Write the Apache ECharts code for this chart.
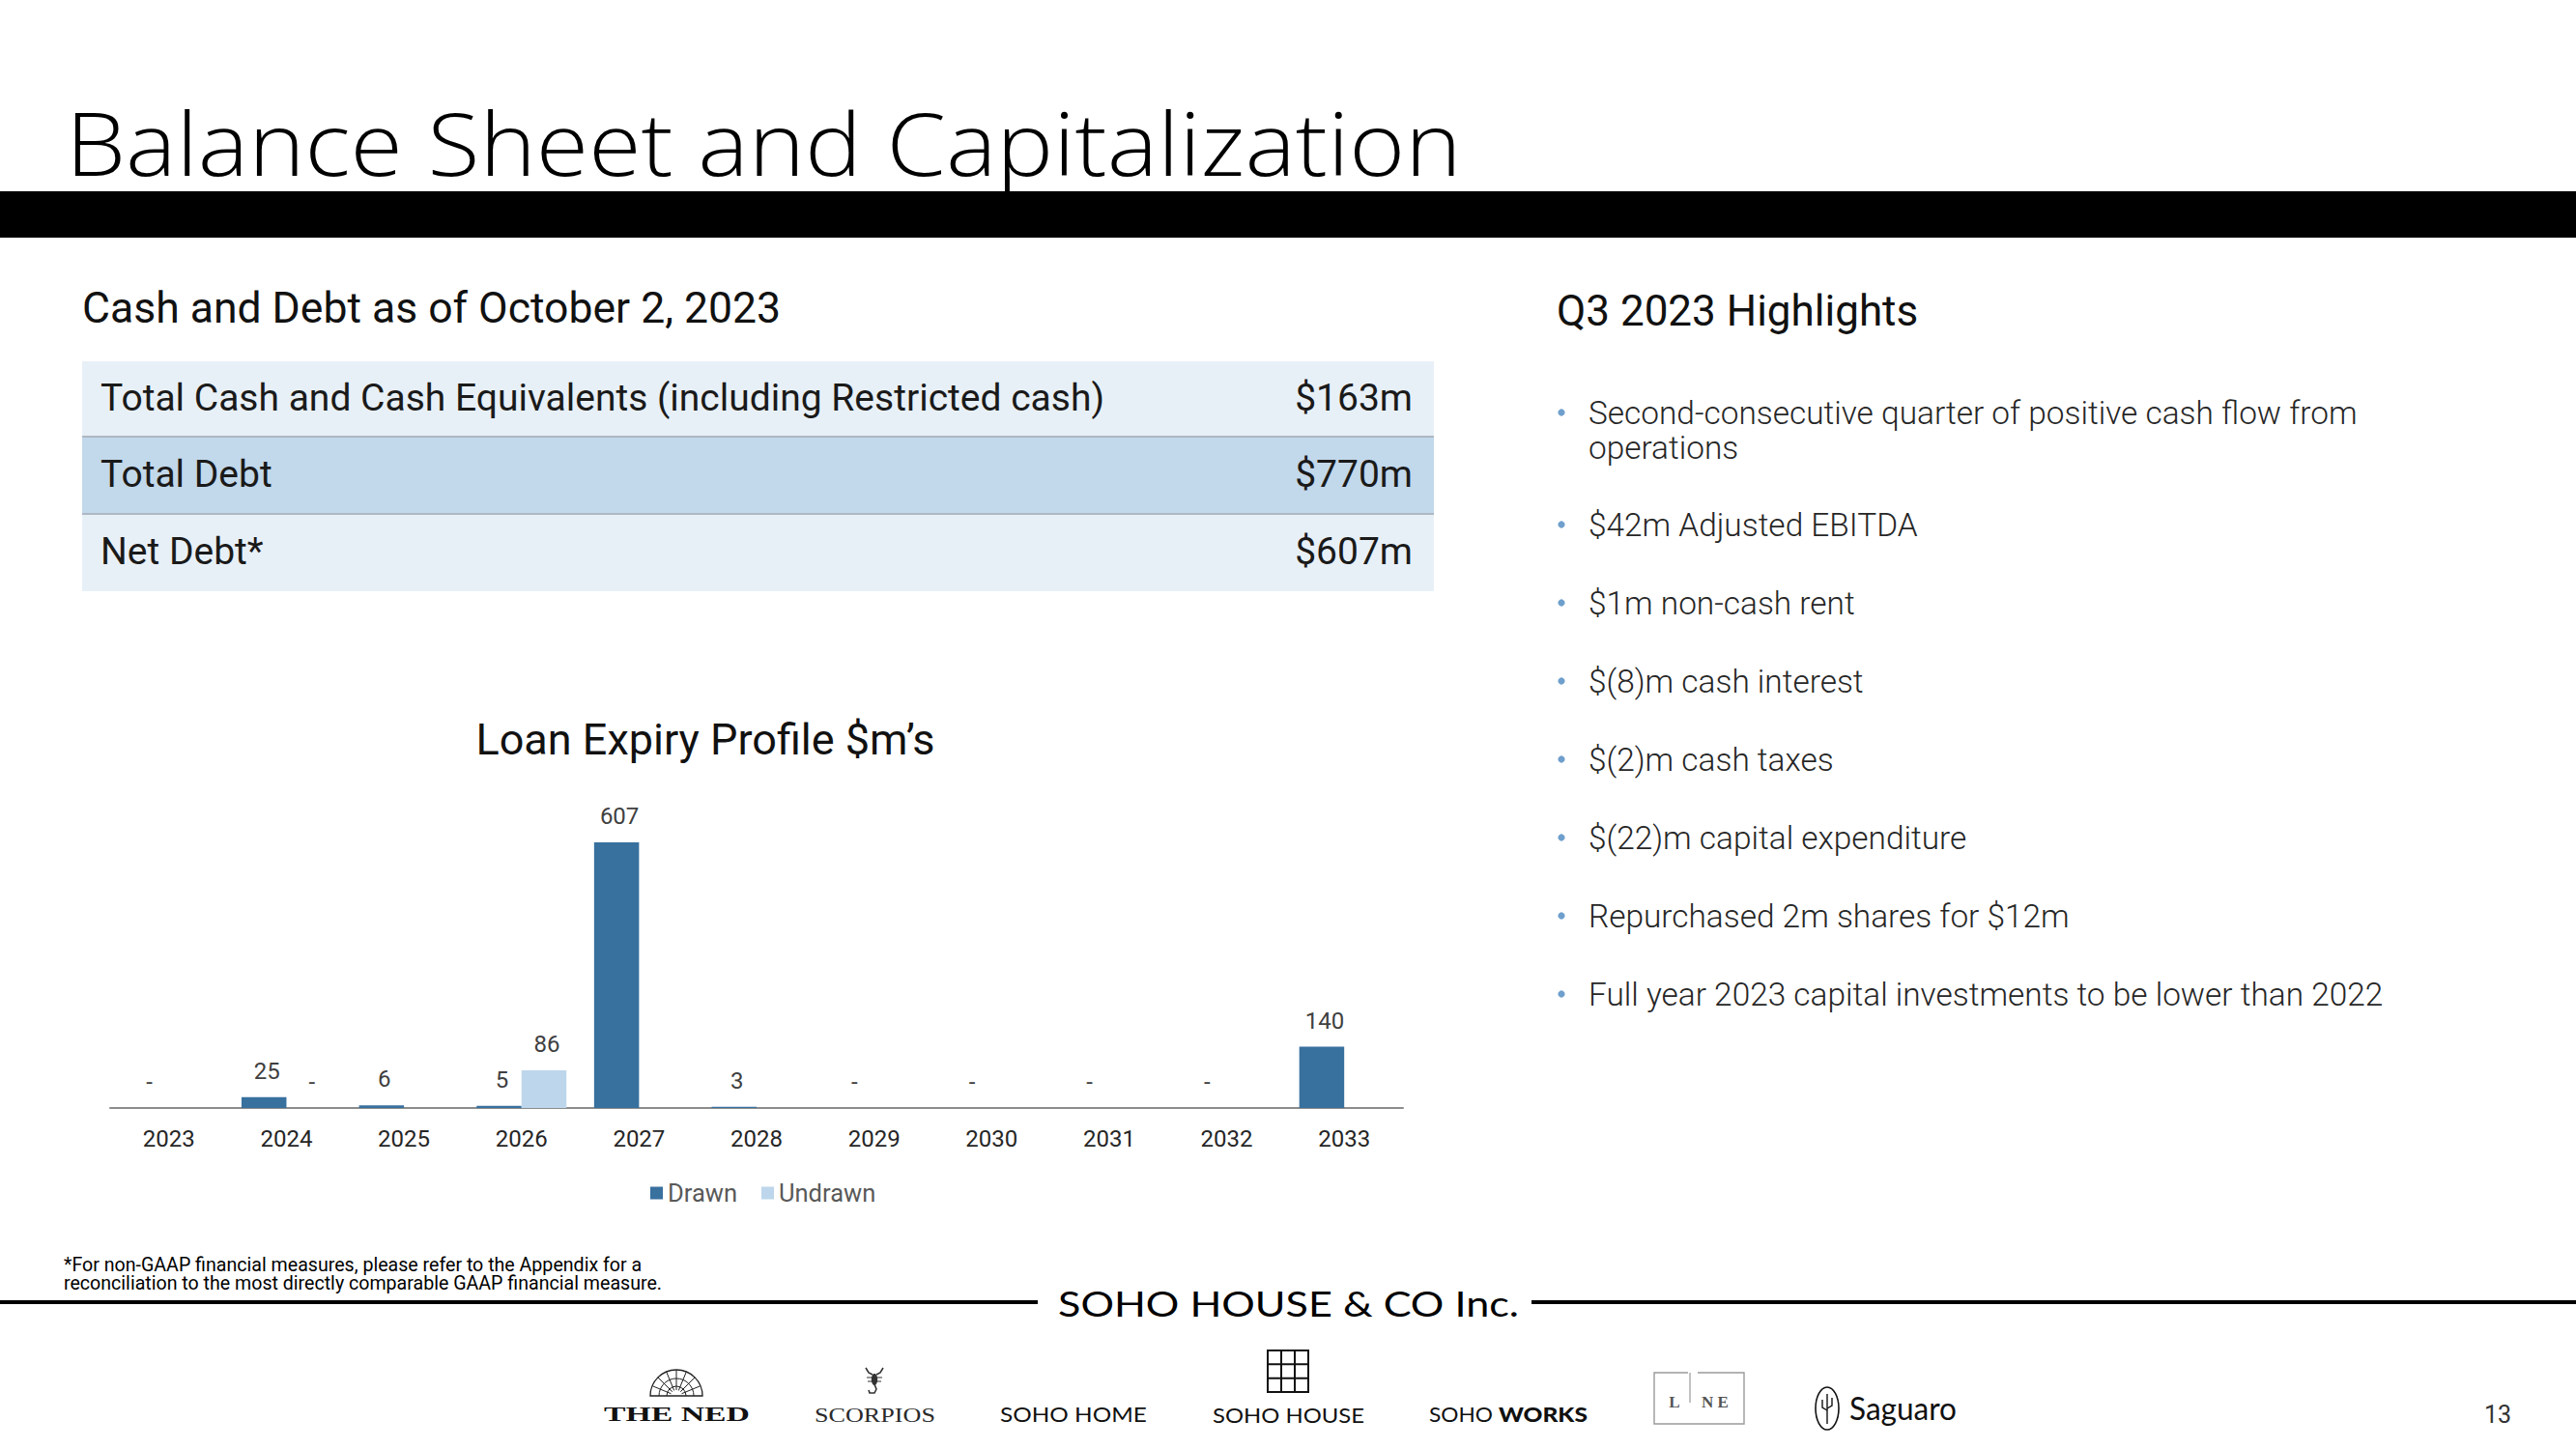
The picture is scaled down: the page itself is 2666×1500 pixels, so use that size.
<!DOCTYPE html>
<html><head><meta charset="utf-8">
<script src="https://cdn.jsdelivr.net/npm/echarts@6/dist/echarts.min.js"></script>
<style>html,body{margin:0;padding:0;background:#fff;} #c{width:2666px;height:1500px;}</style>
</head><body><div id="c"></div>
<script>
// ---------- data ----------
const years = ['2023','2024','2025','2026','2027','2028','2029','2030','2031','2032','2033'];
const drawn = [0, 25, 6, 5, 607, 3, 0, 0, 0, 0, 140];
const undrawn = [null, 0, null, 86, null, null, null, null, null, null, null];
const seriesNames = ['Drawn', 'Undrawn'];
const tableLabels = ['Total Cash and Cash Equivalents (including Restricted cash)', 'Total Debt', 'Net Debt*'];
const tableValues = ['$163m', '$770m', '$607m'];
const highlights = [
  'Second-consecutive quarter of positive cash flow from\noperations',
  '$42m Adjusted EBITDA',
  '$1m non-cash rent',
  '$(8)m cash interest',
  '$(2)m cash taxes',
  '$(22)m capital expenditure',
  'Repurchased 2m shares for $12m',
  'Full year 2023 capital investments to be lower than 2022'
];
const pageTitle = 'Balance Sheet and Capitalization';
const tableHeading = 'Cash and Debt as of October 2, 2023';
const highlightsHeading = 'Q3 2023 Highlights';
const chartTitle = 'Loan Expiry Profile $m\u2019s';
const footnote = ['*For non-GAAP financial measures, please refer to the Appendix for a', 'reconciliation to the most directly comparable GAAP financial measure.'];
const brand = 'SOHO HOUSE & CO Inc.';
const pageNumber = '13';

// ---------- helpers ----------
const mctx = document.createElement('canvas').getContext('2d');
function textW(text, weight, size, family) { mctx.font = weight + ' ' + size + 'px ' + family; return mctx.measureText(text).width; }
function txt(text, x, y, o) {
  o = o || {};
  const family = o.family || 'Roboto', size = o.size || 24, weight = o.weight || 'normal';
  const el = { type: 'text', x: x, y: y, silent: true, style: {
    text: text, fill: o.color || '#1a1a1a', fontFamily: family, fontSize: size, fontWeight: weight,
    textAlign: o.align || 'left', textVerticalAlign: o.valign || 'middle', lineHeight: o.lineHeight } };
  if (o.fitW) el.scaleX = o.fitW / textW(text, weight, size, family.indexOf(' ') >= 0 ? '"' + family + '"' : family);
  return el;
}
const g = [];
// title and bar
g.push(txt(pageTitle, 68, 147, { family: 'Open Sans', size: 90, weight: 300, color: '#000', fitW: 1445 }));
g.push({ type: 'rect', shape: { x: 0, y: 198, width: 2666, height: 48 }, style: { fill: '#000' }, silent: true });
// table
g.push(txt(tableHeading, 85, 319, { size: 44.5, color: '#111' }));
const rowTops = [374, 452, 532], rowH = [78, 80, 80], rowFill = ['#E8F0F7', '#C2D8EB', '#E8F0F7'];
for (let i = 0; i < 3; i++) {
  g.push({ type: 'rect', shape: { x: 85, y: rowTops[i], width: 1399, height: rowH[i] }, style: { fill: rowFill[i] }, silent: true });
}
[452, 532].forEach(function (y) {
  g.push({ type: 'line', shape: { x1: 85, y1: y, x2: 1484, y2: y }, style: { stroke: '#AEB8C2', lineWidth: 2 }, silent: true });
});
for (let i = 0; i < 3; i++) {
  const cy = rowTops[i] + rowH[i] / 2 - 1;
  g.push(txt(tableLabels[i], 104, cy, { size: 39 }));
  g.push(txt(tableValues[i], 1462, cy, { size: 39, align: 'right' }));
}
// highlights
g.push(txt(highlightsHeading, 1611, 322, { size: 44, color: '#111' }));
const hlY = [427, 543, 624, 705, 786, 867, 948, 1029];
highlights.forEach(function (h, i) {
  g.push({ type: 'circle', shape: { cx: 1616, cy: hlY[i], r: 3.6 }, style: { fill: '#6F9FCC' }, silent: true });
  g.push(txt(h, 1644, hlY[i] - 18, { size: 33.4, weight: 300, color: '#262626', valign: 'top', lineHeight: 36 }));
});
// chart title
g.push(txt(chartTitle, 730, 765, { size: 45, color: '#111', align: 'center' }));
// footnote
g.push(txt(footnote[0], 66, 1309, { size: 19.6, color: '#000' }));
g.push(txt(footnote[1], 66, 1328, { size: 19.6, color: '#000' }));
// footer line & brand
g.push({ type: 'rect', shape: { x: 0, y: 1346, width: 1074, height: 4 }, style: { fill: '#000' }, silent: true });
g.push({ type: 'rect', shape: { x: 1585, y: 1346, width: 1081, height: 4 }, style: { fill: '#000' }, silent: true });
g.push(txt(brand, 1095, 1349, { family: 'Lato', size: 37, weight: 400, color: '#000', fitW: 477 }));
// logos
// THE NED dome
(function () {
  const cx = 700, cy = 1445, R = 27;
  g.push({ type: 'sector', shape: { cx: cx, cy: cy, r: R, r0: 0, startAngle: Math.PI, endAngle: 2 * Math.PI }, style: { fill: 'none', stroke: '#222', lineWidth: 1.3 }, silent: true });
  [18, 10].forEach(function (r) {
    g.push({ type: 'arc', shape: { cx: cx, cy: cy, r: r, startAngle: Math.PI, endAngle: 2 * Math.PI }, style: { stroke: '#222', lineWidth: 1 }, silent: true });
  });
  for (let k = 1; k < 8; k++) {
    const a = Math.PI + k * Math.PI / 8;
    g.push({ type: 'line', shape: { x1: cx + 6 * Math.cos(a), y1: cy + 6 * Math.sin(a), x2: cx + R * Math.cos(a), y2: cy + R * Math.sin(a) }, style: { stroke: '#222', lineWidth: 1 }, silent: true });
  }
})();
g.push(txt('THE NED', 625, 1464, { family: 'Liberation Serif', size: 21, weight: 'bold', color: '#111', fitW: 151 }));
// scorpion
(function () {
  const s = { stroke: '#333', lineWidth: 1.6, fill: 'none' };
  g.push({ type: 'polyline', shape: { points: [[896, 1416], [899, 1421], [903, 1423]] }, style: s, silent: true });
  g.push({ type: 'polyline', shape: { points: [[914, 1416], [911, 1421], [907, 1423]] }, style: s, silent: true });
  g.push({ type: 'ellipse', shape: { cx: 905, cy: 1428, rx: 3.2, ry: 6 }, style: { fill: '#333' }, silent: true });
  g.push({ type: 'polyline', shape: { points: [[897, 1426], [913, 1426]] }, style: { stroke: '#333', lineWidth: 1 }, silent: true });
  g.push({ type: 'polyline', shape: { points: [[898, 1430], [912, 1430]] }, style: { stroke: '#333', lineWidth: 1 }, silent: true });
  g.push({ type: 'polyline', shape: { points: [[905, 1433], [907, 1438], [905, 1442], [900, 1442], [899, 1439]] }, style: s, silent: true });
})();
g.push(txt('SCORPIOS', 843, 1464, { family: 'Liberation Serif', size: 22, color: '#2a2a2a', fitW: 125 }));
g.push(txt('SOHO HOME', 1035, 1464, { family: 'Lato', size: 21, color: '#111', fitW: 152 }));
// soho house grid
(function () {
  const x0 = 1312, y0 = 1398, w = 42, h = 43;
  g.push({ type: 'rect', shape: { x: x0, y: y0, width: w, height: h }, style: { fill: 'none', stroke: '#111', lineWidth: 2 }, silent: true });
  for (let k = 1; k < 3; k++) {
    g.push({ type: 'line', shape: { x1: x0 + w * k / 3, y1: y0, x2: x0 + w * k / 3, y2: y0 + h }, style: { stroke: '#111', lineWidth: 2 }, silent: true });
    g.push({ type: 'line', shape: { x1: x0, y1: y0 + h * k / 3, x2: x0 + w, y2: y0 + h * k / 3 }, style: { stroke: '#111', lineWidth: 2 }, silent: true });
  }
})();
g.push(txt('SOHO HOUSE', 1255, 1465, { family: 'Lato', size: 21, color: '#111', fitW: 157 }));
g.push(txt('SOHO', 1479, 1464, { family: 'Lato', size: 21, color: '#111', fitW: 66 }));
g.push(txt('WORKS', 1551, 1464, { family: 'Lato', size: 21, weight: 900, color: '#111', fitW: 92 }));
// LNE box
g.push({ type: 'polyline', shape: { points: [[1747, 1421], [1712, 1421], [1712, 1474], [1805, 1474], [1805, 1421], [1757, 1421]] }, style: { stroke: '#9a9a9a', lineWidth: 1.4, fill: 'none' }, silent: true });
g.push({ type: 'line', shape: { x1: 1749, y1: 1421, x2: 1749, y2: 1452 }, style: { stroke: '#9a9a9a', lineWidth: 1.2 }, silent: true });
g.push(txt('L', 1733, 1451, { family: 'Liberation Serif', size: 17, weight: 'bold', color: '#555', align: 'center' }));
g.push(txt('N E', 1775, 1451, { family: 'Liberation Serif', size: 17, weight: 'bold', color: '#555', align: 'center' }));
// Saguaro
g.push({ type: 'ellipse', shape: { cx: 1891, cy: 1458, rx: 12, ry: 22 }, style: { fill: 'none', stroke: '#111', lineWidth: 1.6 }, silent: true });
g.push({ type: 'line', shape: { x1: 1891, y1: 1443, x2: 1891, y2: 1474 }, style: { stroke: '#111', lineWidth: 1.4 }, silent: true });
g.push({ type: 'polyline', shape: { points: [[1886, 1449], [1886, 1457], [1891, 1460]] }, style: { stroke: '#111', lineWidth: 1.4, fill: 'none' }, silent: true });
g.push({ type: 'polyline', shape: { points: [[1896, 1447], [1896, 1455], [1891, 1458]] }, style: { stroke: '#111', lineWidth: 1.4, fill: 'none' }, silent: true });
g.push(txt('Saguaro', 1914, 1458, { family: 'Lato', size: 32, weight: 400, color: '#111', fitW: 111 }));
g.push(txt(pageNumber, 2585, 1464, { size: 25, color: '#333', align: 'center' }));

// ---------- chart ----------
const labelFmt = function (p) { return p.value === 0 ? '-' : String(p.value); };
const chart = echarts.init(document.getElementById('c'), null, { renderer: 'svg', width: 2666, height: 1500 });
chart.setOption({
  backgroundColor: '#fff',
  animation: false,
  textStyle: { fontFamily: 'Roboto' },
  grid: { left: 114, right: 1214, top: 830, bottom: 353, containLabel: false },
  legend: {
    data: seriesNames, left: 673, top: 1222, padding: 0, itemWidth: 13, itemHeight: 13, itemGap: 25,
    icon: 'rect', textStyle: { fontSize: 25.5, color: '#595959', fontFamily: 'Roboto' }
  },
  xAxis: {
    type: 'category', data: years,
    axisLine: { lineStyle: { color: '#8C8C8C', width: 2 } },
    axisTick: { show: false },
    axisLabel: { fontSize: 24, color: '#262626', margin: 20, fontFamily: 'Roboto' }
  },
  yAxis: { type: 'value', min: 0, max: 700, show: false, splitLine: { show: false } },
  series: [
    { name: seriesNames[0], type: 'bar', data: drawn, barWidth: 46.5, barGap: '0%',
      itemStyle: { color: '#38709E' },
      label: { show: true, position: 'top', distance: 15, offset: [3, 0], fontSize: 24, color: '#404040', formatter: labelFmt } },
    { name: seriesNames[1], type: 'bar', data: undrawn, barWidth: 46.5, barGap: '0%',
      itemStyle: { color: '#BDD6EB' },
      label: { show: true, position: 'top', distance: 15, offset: [3, 0], fontSize: 24, color: '#404040', formatter: labelFmt } }
  ],
  graphic: { elements: g }
});
</script></body></html>
